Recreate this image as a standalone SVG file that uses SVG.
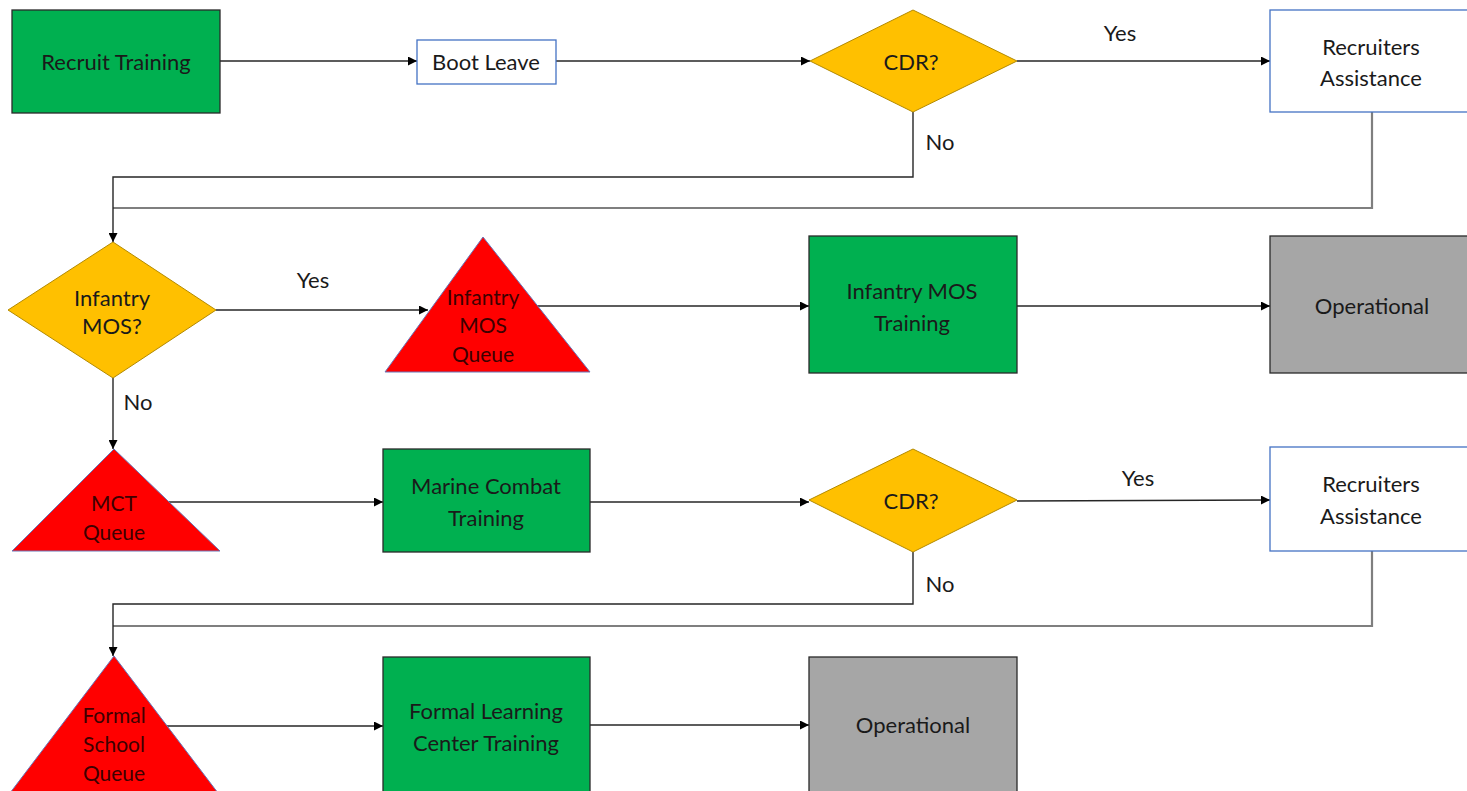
<svg xmlns="http://www.w3.org/2000/svg" width="1467" height="791" viewBox="0 0 1467 791">
<style>
  .t{font-family:Lato,"Liberation Sans",sans-serif;font-size:22px;fill:#1a1a1a;text-anchor:middle;dominant-baseline:central}
  .tq{font-family:Lato,"Liberation Sans",sans-serif;font-size:21px;fill:#3d0000;text-anchor:middle;dominant-baseline:central}
  .green{fill:#00b050;stroke:#2a2a2a;stroke-width:1.3}
  .blue{fill:#ffffff;stroke:#4472c4;stroke-width:1.3}
  .gray{fill:#a6a6a6;stroke:#2a2a2a;stroke-width:1.3}
  .dia{fill:#ffc000;stroke:#b38a00;stroke-width:1}
  .tri{fill:#ff0000;stroke:#6a76b8;stroke-width:1}
  .c{fill:none;stroke:#262626;stroke-width:1.4}
  .cg{fill:none;stroke:#7f7f7f;stroke-width:2.2}
</style>
<defs>
  <marker id="arr" viewBox="0 0 10 10" refX="10" refY="5" markerWidth="9" markerHeight="9" markerUnits="userSpaceOnUse" orient="auto">
    <path d="M0,0 L10,5 L0,10 z" fill="#000"/>
  </marker>
</defs>
<rect width="1467" height="791" fill="#ffffff"/>

<g id="connectors">
  <line class="c" x1="220" y1="61" x2="417" y2="61" marker-end="url(#arr)"/>
  <line class="c" x1="556" y1="61" x2="810" y2="61" marker-end="url(#arr)"/>
  <line class="c" x1="1017" y1="61" x2="1270" y2="61" marker-end="url(#arr)"/>
  <polyline class="cg" points="1372,112 1372,208 113,208"/>
  <polyline class="c" points="913,112 913,177 113,177 113,242" marker-end="url(#arr)"/>
  <line class="c" x1="216" y1="310" x2="428" y2="310" marker-end="url(#arr)"/>
  <line class="c" x1="536" y1="306" x2="809" y2="306" marker-end="url(#arr)"/>
  <line class="c" x1="1017" y1="306" x2="1270" y2="306" marker-end="url(#arr)"/>
  <line class="c" x1="113" y1="378" x2="113" y2="449" marker-end="url(#arr)"/>
  <line class="c" x1="167" y1="502" x2="383" y2="502" marker-end="url(#arr)"/>
  <line class="c" x1="590" y1="502" x2="809" y2="502" marker-end="url(#arr)"/>
  <line class="c" x1="1017" y1="501" x2="1270" y2="500" marker-end="url(#arr)"/>
  <polyline class="cg" points="1372,551 1372,626 113,626"/>
  <polyline class="c" points="913,552 913,604 113,604 113,656" marker-end="url(#arr)"/>
  <line class="c" x1="166" y1="726" x2="383" y2="726" marker-end="url(#arr)"/>
  <line class="c" x1="590" y1="725" x2="809" y2="725" marker-end="url(#arr)"/>
  <text class="t" x="1120" y="32">Yes</text>
  <text class="t" x="940" y="141">No</text>
  <text class="t" x="313" y="279">Yes</text>
  <text class="t" x="138" y="401">No</text>
  <text class="t" x="1138" y="477">Yes</text>
  <text class="t" x="940" y="583">No</text>
</g>

<g id="recruit-training">
  <rect class="green" x="12" y="10" width="208" height="103"/>
  <text class="t" x="116" y="61">Recruit Training</text>
</g>
<g id="boot-leave">
  <rect class="blue" x="417" y="40" width="139" height="44"/>
  <text class="t" x="486" y="61">Boot Leave</text>
</g>
<g id="cdr-1">
  <polygon class="dia" points="913,10 1017,61 913,112 810,61"/>
  <text class="t" x="911" y="61">CDR?</text>
</g>
<g id="recruiters-assistance-1">
  <rect class="blue" x="1270" y="10" width="200" height="102"/>
  <text class="t" x="1371" y="46">Recruiters</text>
  <text class="t" x="1371" y="77">Assistance</text>
</g>
<g id="infantry-mos-decision">
  <polygon class="dia" points="113,242 216,310 113,378 8,310"/>
  <text class="t" x="112" y="297">Infantry</text>
  <text class="t" x="112" y="325">MOS?</text>
</g>
<g id="infantry-mos-queue">
  <polygon class="tri" points="483,237 590,372 385,372"/>
  <text class="tq" x="483" y="296">Infantry</text>
  <text class="tq" x="483" y="324">MOS</text>
  <text class="tq" x="483" y="353">Queue</text>
</g>
<g id="infantry-mos-training">
  <rect class="green" x="809" y="236" width="208" height="137"/>
  <text class="t" x="912" y="290">Infantry MOS</text>
  <text class="t" x="912" y="322">Training</text>
</g>
<g id="operational-1">
  <rect class="gray" x="1270" y="236" width="200" height="137"/>
  <text class="t" x="1372" y="305">Operational</text>
</g>
<g id="mct-queue">
  <polygon class="tri" points="114,449 220,551 12,551"/>
  <text class="tq" x="114" y="502">MCT</text>
  <text class="tq" x="114" y="531">Queue</text>
</g>
<g id="marine-combat-training">
  <rect class="green" x="383" y="449" width="207" height="103"/>
  <text class="t" x="486" y="485">Marine Combat</text>
  <text class="t" x="486" y="517">Training</text>
</g>
<g id="cdr-2">
  <polygon class="dia" points="913,449 1017,500 913,552 809,500"/>
  <text class="t" x="911" y="500">CDR?</text>
</g>
<g id="recruiters-assistance-2">
  <rect class="blue" x="1270" y="447" width="200" height="104"/>
  <text class="t" x="1371" y="483">Recruiters</text>
  <text class="t" x="1371" y="515">Assistance</text>
</g>
<g id="formal-school-queue">
  <polygon class="tri" points="114,656 218,793 10,793"/>
  <text class="tq" x="114" y="714">Formal</text>
  <text class="tq" x="114" y="743">School</text>
  <text class="tq" x="114" y="772">Queue</text>
</g>
<g id="formal-learning-center-training">
  <rect class="green" x="383" y="657" width="207" height="140"/>
  <text class="t" x="486" y="710">Formal Learning</text>
  <text class="t" x="486" y="742">Center Training</text>
</g>
<g id="operational-2">
  <rect class="gray" x="809" y="657" width="208" height="140"/>
  <text class="t" x="913" y="724">Operational</text>
</g>
</svg>
